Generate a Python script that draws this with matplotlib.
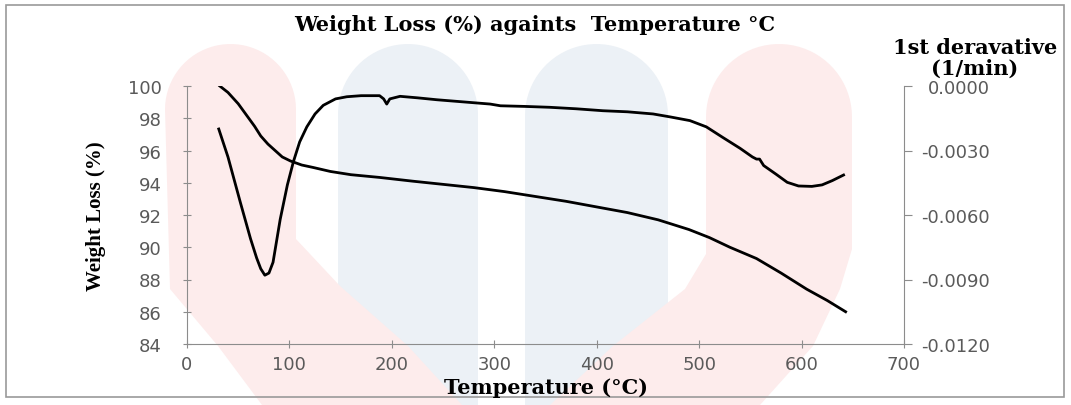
import numpy as np
import matplotlib
matplotlib.use("Agg")
import matplotlib.pyplot as plt
from matplotlib.patches import Polygon, Rectangle

# ---- data ----
temp_wl = [32, 40, 50, 58, 66, 72, 79, 86, 93, 101, 112, 123, 140, 160, 188,
           220, 250, 280, 310, 340, 370, 400, 430, 460, 490, 510, 530, 556,
           580, 605, 625, 643]
weight_loss = [100.0, 99.6, 98.9, 98.2, 97.5, 96.9, 96.4, 96.0, 95.6, 95.35,
               95.1, 94.95, 94.7, 94.5, 94.33, 94.1, 93.9, 93.7, 93.45, 93.15,
               92.85, 92.5, 92.15, 91.7, 91.1, 90.6, 90.0, 89.3, 88.4, 87.4,
               86.7, 86.0]

temp_dtg = [31, 40, 52, 62, 68, 72, 76, 80, 84, 91, 98, 104, 110, 117, 125,
            133, 145, 156, 170, 188, 192, 195, 198, 208, 225, 244, 270, 296,
            306, 330, 354, 380, 406, 430, 455, 472, 491, 507, 523, 540, 552,
            556, 559, 563, 575, 586, 597, 610, 620, 630, 641]
deriv = [-0.0020, -0.0033, -0.0054, -0.0071, -0.0080, -0.0085, -0.0088,
         -0.0087, -0.0082, -0.0062, -0.0046, -0.0035, -0.0026, -0.0019,
         -0.0013, -0.0009, -0.0006, -0.0005, -0.00045, -0.00045, -0.0006,
         -0.00084, -0.0006, -0.00048, -0.00055, -0.00064, -0.00074, -0.00084,
         -0.00092, -0.00095, -0.00099, -0.00106, -0.00115, -0.00120, -0.0013,
         -0.00144, -0.00161, -0.0019, -0.00239, -0.0029, -0.0033, -0.0034,
         -0.0034, -0.0037, -0.0041, -0.00448, -0.00465, -0.00467, -0.0046,
         -0.0044, -0.00414]

x_ticks = [0, 100, 200, 300, 400, 500, 600, 700]
left_ticks = [84, 86, 88, 90, 92, 94, 96, 98, 100]
right_ticks = [-0.012, -0.009, -0.006, -0.003, 0.0]
right_labels = ["-0.0120", "-0.0090", "-0.0060", "-0.0030", "0.0000"]

W, H = 1071, 406
PINK = "#fdecec"
BLUE = "#ecf1f6"
GRAY = "#8c8c8c"
TICK_COLOR = "#5a5a5a"


def column_top(x0, x1, top, n=40):
    # rounded top of a watermark column, in pixel coords (y down)
    r = (x1 - x0) / 2
    ang = np.linspace(np.pi, 0, n)
    return [(x0 + r + r * np.cos(a), top + r - r * np.sin(a)) for a in ang]


fig = plt.figure(figsize=(W / 100, H / 100), dpi=100)

# background watermark layer in pixel coordinates
bg = fig.add_axes([0, 0, 1, 1], zorder=0)
bg.set_xlim(0, W)
bg.set_ylim(H, 0)
bg.axis("off")
for x0, x1 in [(338, 478), (525, 668)]:
    pts = column_top(x0, x1, 45) + [(x1, H), (x0, H)]
    bg.add_patch(Polygon(pts, closed=True, fc=BLUE, ec="none"))
pink_l = column_top(165, 296, 45) + [(296, 240), (340, 287), (408, 347),
                                      (462, H), (262, H), (218, 347), (170, 290)]
pink_r = column_top(706, 852, 45) + [(852, 250), (840, 290), (813, 347),
                                      (760, H), (550, H), (613, 347), (685, 290),
                                      (706, 255)]
for pts in (pink_l, pink_r):
    bg.add_patch(Polygon(pts, closed=True, fc=PINK, ec="none"))
bg.add_patch(Rectangle((6, 6), W - 13, H - 14, fill=False, ec="#9a9a9a", lw=1.2))

# main axes
ax = fig.add_axes([187 / W, 61 / H, 717 / W, 258 / H], zorder=1)
ax.patch.set_alpha(0)
ax.plot(temp_wl, weight_loss, color="black", lw=2.0)
ax.set_xlim(0, 700)
ax.set_ylim(84, 100)
ax.set_xticks(x_ticks)
ax.set_yticks(left_ticks)
ax.spines["top"].set_visible(False)
ax.spines["right"].set_visible(False)
for s in ("left", "bottom"):
    ax.spines[s].set_color(GRAY)
    ax.spines[s].set_linewidth(0.8)
ax.tick_params(axis="both", direction="inout", length=6, width=0.8,
               color=GRAY, labelcolor=TICK_COLOR, labelsize=13)
ax.tick_params(axis="y", pad=15)
ax.tick_params(axis="x", pad=5)
ax.set_xlabel("Temperature (°C)", fontfamily="DejaVu Serif",
              fontweight="bold", fontsize=15, labelpad=3)
ax.set_ylabel("Weight Loss (%)", fontfamily="Liberation Serif",
              fontweight="bold", fontsize=15, labelpad=16)

# secondary axis: first derivative
ax2 = ax.twinx()
ax2.plot(temp_dtg, deriv, color="black", lw=2.0)
ax2.set_ylim(-0.012, 0.0)
ax2.set_yticks(right_ticks)
ax2.set_yticklabels(right_labels)
for s in ("top", "left", "bottom"):
    ax2.spines[s].set_visible(False)
ax2.spines["right"].set_color(GRAY)
ax2.spines["right"].set_linewidth(0.8)
ax2.tick_params(axis="y", direction="out", length=6, width=0.8, color=GRAY,
                labelcolor=TICK_COLOR, labelsize=13, pad=56)
for lbl in ax2.get_yticklabels():
    lbl.set_horizontalalignment("right")

fig.text(535 / W, 1 - 25 / H, "Weight Loss (%) againts  Temperature °C",
         ha="center", va="center", fontfamily="DejaVu Serif",
         fontweight="bold", fontsize=15)
fig.text(975 / W, 1 - 48 / H, "1st deravative", ha="center", va="center",
         fontfamily="DejaVu Serif", fontweight="bold", fontsize=15)
fig.text(975 / W, 1 - 69 / H, "(1/min)", ha="center", va="center",
         fontfamily="DejaVu Serif", fontweight="bold", fontsize=15)

fig.savefig("out.png", dpi=100)
